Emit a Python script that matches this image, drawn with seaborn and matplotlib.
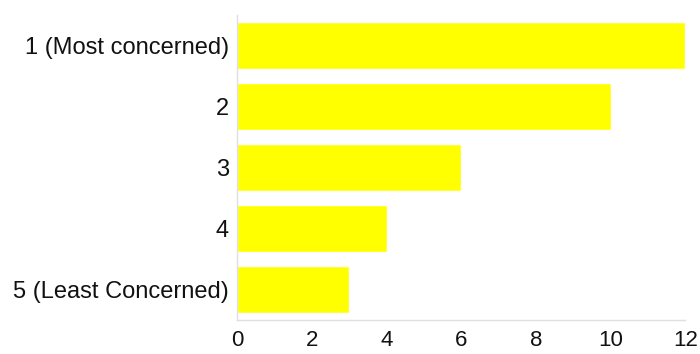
import matplotlib
matplotlib.use("Agg")
import matplotlib.pyplot as plt
import seaborn as sns
import pandas as pd

categories = ["1 (Most concerned)", "2", "3", "4", "5 (Least Concerned)"]
values = [12, 10, 6, 4, 3]
xticks = [0, 2, 4, 6, 8, 10, 12]

sns.set_theme(style="white")
plt.rcParams['font.family'] = ['Liberation Sans', 'DejaVu Sans']

df = pd.DataFrame({"cat": categories, "val": values})

fig = plt.figure(figsize=(7, 3.54), dpi=100)
ax = fig.add_axes([0.339, 0.096, 0.640, 0.862])
sns.barplot(data=df, y="cat", x="val", color="#FFFF00", saturation=1, width=0.78, ax=ax, orient="h")
ax.set_xlim(0, 12)
ax.set_ylim(4.5, -0.5)
ax.set_xticks(xticks)
ax.set_xticklabels([str(t) for t in xticks], fontsize=16, color="#111111")
ax.tick_params(axis="y", labelsize=17, labelcolor="#111111", length=0, pad=6)
ax.tick_params(axis="x", length=3, color="#dddddd", pad=4)
ax.set_xlabel("")
ax.set_ylabel("")
for s in ["top", "right"]:
    ax.spines[s].set_visible(False)
for s in ["left", "bottom"]:
    ax.spines[s].set_color("#e0e0e0")
    ax.spines[s].set_linewidth(1)
fig.savefig("out.png", dpi=100)
